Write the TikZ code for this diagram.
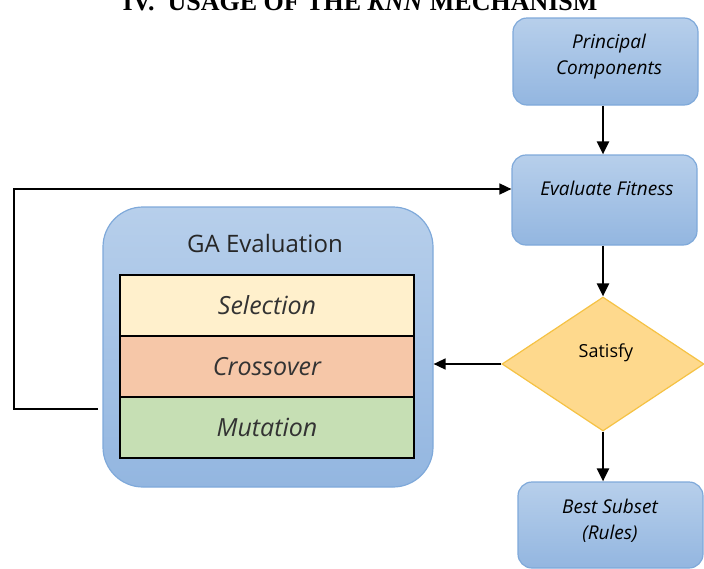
\documentclass[tikz,border=0pt]{standalone}
\usepackage{fontspec}
\setmainfont{Open Sans}
\newfontfamily\titlefont{Liberation Serif}
\usetikzlibrary{arrows.meta,shapes.geometric}
\definecolor{bluetop}{HTML}{B7CFEB}
\definecolor{bluebot}{HTML}{93B6E0}
\definecolor{blueedge}{HTML}{7FA9DA}
\definecolor{diafill}{HTML}{FED98D}
\definecolor{diaedge}{HTML}{F5C244}
\definecolor{selfill}{HTML}{FFF0CC}
\definecolor{crossfill}{HTML}{F6C7A8}
\definecolor{mutfill}{HTML}{C6DFB4}
\tikzset{
  bluebox/.style={draw=blueedge, line width=1.2pt, top color=bluetop, bottom color=bluebot, rounded corners=14pt, inner sep=0pt},
  layerbox/.style={draw=black, line width=1.6pt, minimum width=294pt, minimum height=61pt, inner sep=0pt, font=\fontsize{25}{30}\selectfont\itshape, text=black!80},
  boxtext/.style={font=\fontsize{19}{26}\selectfont\itshape, align=center, inner sep=0pt},
  flowarrow/.style={line width=2.4pt, -{Triangle[length=13pt,width=12pt]}},
  sidearrow/.style={line width=1.6pt, -{Triangle[length=12pt,width=11pt]}},
}
\begin{document}
\begin{tikzpicture}[x=1pt,y=-1pt]
\clip (0,0) rectangle (704,568);
% title (cut off at top, as in the reference)
\node[anchor=base, inner sep=0pt, font=\titlefont\bfseries\fontsize{26}{30}\selectfont] (title) at (360,10) {IV.~~USAGE OF THE \textit{KNN} MECHANISM};
% right column
\node[bluebox, minimum width=185pt, minimum height=87pt] (pc) at (605.5,61.5) {};
\node[boxtext] (pctext) at (609,57) {Principal\\Components};
\node[bluebox, minimum width=185pt, minimum height=90pt] (ef) at (604.5,200) {};
\node[boxtext] (eftext) at (607,188) {Evaluate Fitness};
\node[diamond, draw=diaedge, line width=1.2pt, fill=diafill, inner sep=0pt, minimum width=202pt, minimum height=134pt] (sat) at (603,364) {};
\node[font=\fontsize{18}{22}\selectfont, inner sep=0pt] (sattext) at (606,353) {Satisfy};
\node[bluebox, minimum width=185pt, minimum height=86pt] (best) at (610.5,525) {};
\node[boxtext] (besttext) at (610,521) {Best Subset\\(Rules)};
% GA evaluation
\node[draw=blueedge, line width=1.2pt, top color=bluetop, bottom color=bluebot, rounded corners=40pt, minimum width=330pt, minimum height=280pt, inner sep=0pt] (ga) at (268,347) {};
\node[font=\fontsize{24}{28}\selectfont, text=black!85, inner sep=0pt] (gatext) at (265,243) {GA Evaluation};
\node[layerbox, fill=selfill] (sel) at (267,305.5) {Selection};
\node[layerbox, fill=crossfill] (cross) at (267,366.5) {Crossover};
\node[layerbox, fill=mutfill] (mut) at (267,427.5) {Mutation};
% connectors
\draw[flowarrow] (pc.south -| 603,0) -- (ef.north -| 603,0);
\draw[flowarrow] (ef.south -| sat.north) -- (sat.north);
\draw[flowarrow] (sat.south) -- (best.north -| sat.south);
\draw[sidearrow] (sat.west) -- (sat.west -| ga.east);
\coordinate (fb) at (98,409);
\draw[sidearrow] (fb) -- (14,409) |- ([yshift=11pt]ef.west);
\end{tikzpicture}
\end{document}
